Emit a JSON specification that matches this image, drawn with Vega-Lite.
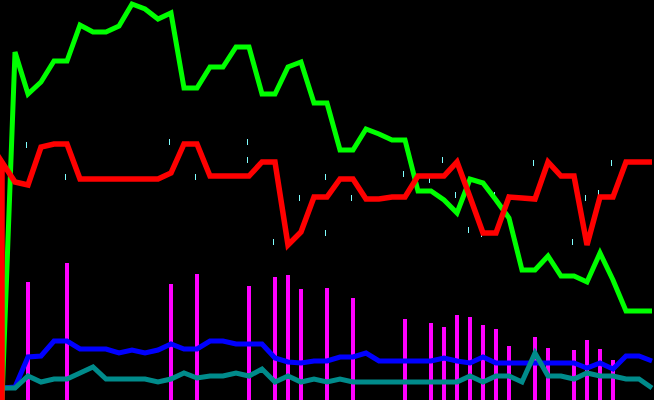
{
  "$schema": "https://vega.github.io/schema/vega-lite/v6.json",
  "width": 654,
  "height": 400,
  "padding": 0,
  "autosize": {"type": "none"},
  "background": "black",
  "config": {"view": {"stroke": null}},
  "datasets": {
    "m": [
      {"i": 0, "r": 0, "o": 0},
      {"i": 0, "g": 0, "r": 238, "b": 12, "t": 12, "o": 1},
      {"i": 1, "g": 348, "r": 218, "b": 13, "t": 12, "o": 2},
      {"i": 2, "g": 306, "r": 215, "b": 43, "t": 24, "v": 118, "o": 3},
      {"i": 3, "g": 318, "r": 253, "b": 44, "t": 18, "o": 4},
      {"i": 4, "g": 339, "r": 256, "b": 59, "t": 21, "o": 5},
      {"i": 5, "g": 339, "r": 256, "b": 59, "t": 21, "v": 137, "o": 6},
      {"i": 6, "g": 375, "r": 221, "b": 51, "t": 27, "o": 7},
      {"i": 7, "g": 368, "r": 221, "b": 51, "t": 33, "o": 8},
      {"i": 8, "g": 368, "r": 221, "b": 51, "t": 21, "o": 9},
      {"i": 9, "g": 374, "r": 221, "b": 47, "t": 21, "o": 10},
      {"i": 10, "g": 396, "r": 221, "b": 50, "t": 21, "o": 11},
      {"i": 11, "g": 391, "r": 221, "b": 47, "t": 21, "o": 12},
      {"i": 12, "g": 381, "r": 221, "b": 50, "t": 18, "o": 13},
      {"i": 13, "g": 387, "r": 227, "b": 56, "t": 21, "v": 116, "o": 14},
      {"i": 14, "g": 312, "r": 256, "b": 51, "t": 27, "o": 15},
      {"i": 15, "g": 312, "r": 256, "b": 51, "t": 22, "v": 126, "o": 16},
      {"i": 16, "g": 333, "r": 224, "b": 59, "t": 24, "o": 17},
      {"i": 17, "g": 333, "r": 224, "b": 59, "t": 24, "o": 18},
      {"i": 18, "g": 353, "r": 224, "b": 56, "t": 27, "o": 19},
      {"i": 19, "g": 353, "r": 224, "b": 56, "t": 24, "v": 114, "o": 20},
      {"i": 20, "g": 306, "r": 238, "b": 56, "t": 31, "o": 21},
      {"i": 21, "g": 306, "r": 238, "b": 42, "t": 18, "v": 123, "o": 22},
      {"i": 22, "g": 333, "r": 155, "b": 38, "t": 24, "v": 125, "o": 23},
      {"i": 23, "g": 338, "r": 168, "b": 37, "t": 18, "v": 111, "o": 24},
      {"i": 24, "g": 297, "r": 203, "b": 39, "t": 21, "o": 25},
      {"i": 25, "g": 297, "r": 203, "b": 39, "t": 18, "v": 112, "o": 26},
      {"i": 26, "g": 250, "r": 221, "b": 43, "t": 21, "o": 27},
      {"i": 27, "g": 250, "r": 221, "b": 43, "t": 18, "v": 102, "o": 28},
      {"i": 28, "g": 271, "r": 201, "b": 47, "t": 18, "o": 29},
      {"i": 29, "g": 266, "r": 201, "b": 39, "t": 18, "o": 30},
      {"i": 30, "g": 260, "r": 203, "b": 39, "t": 18, "o": 31},
      {"i": 31, "g": 260, "r": 203, "b": 39, "t": 18, "v": 81, "o": 32},
      {"i": 32, "g": 209, "r": 224, "b": 39, "t": 18, "o": 33},
      {"i": 33, "g": 209, "r": 224, "b": 39, "t": 18, "v": 77, "o": 34},
      {"i": 34, "g": 200, "r": 224, "b": 42, "t": 18, "v": 73, "o": 35},
      {"i": 35, "g": 187, "r": 238, "b": 39, "t": 18, "v": 85, "o": 36},
      {"i": 36, "g": 221, "r": 203, "b": 37, "t": 24, "v": 83, "o": 37},
      {"i": 37, "g": 217, "r": 167, "b": 43, "t": 18, "v": 75, "o": 38},
      {"i": 38, "g": 200, "r": 167, "b": 37, "t": 24, "v": 71, "o": 39},
      {"i": 39, "g": 182, "r": 203, "b": 37, "t": 24, "v": 54, "o": 40},
      {"i": 40, "g": 130, "r": 202, "b": 37, "t": 18, "o": 41},
      {"i": 41, "g": 130, "r": 201, "b": 37, "t": 47, "v": 63, "o": 42},
      {"i": 42, "g": 144, "r": 238, "b": 37, "t": 24, "v": 52, "o": 43},
      {"i": 43, "g": 124, "r": 224, "b": 37, "t": 24, "o": 44},
      {"i": 44, "g": 124, "r": 224, "b": 37, "t": 21, "v": 50, "o": 45},
      {"i": 45, "g": 118, "r": 155, "b": 32, "t": 27, "v": 60, "o": 46},
      {"i": 46, "g": 147, "r": 203, "b": 37, "t": 24, "v": 51, "o": 47},
      {"i": 47, "g": 120, "r": 203, "b": 31, "t": 24, "v": 40, "o": 48},
      {"i": 48, "g": 89, "r": 238, "b": 44, "t": 21, "o": 49},
      {"i": 49, "g": 89, "r": 238, "b": 44, "t": 21, "o": 50},
      {"i": 50, "g": 89, "r": 238, "b": 39, "t": 12, "o": 51}
    ],
    "ticks": [
      {"i": 2, "p": 255},
      {"i": 5, "p": 223},
      {"i": 13, "p": 258},
      {"i": 15, "p": 223},
      {"i": 19, "p": 258},
      {"i": 19, "p": 240},
      {"i": 21, "p": 158},
      {"i": 22, "p": 155},
      {"i": 23, "p": 202},
      {"i": 25, "p": 223},
      {"i": 25, "p": 167},
      {"i": 27, "p": 202},
      {"i": 31, "p": 226},
      {"i": 33, "p": 220},
      {"i": 34, "p": 240},
      {"i": 35, "p": 205},
      {"i": 36, "p": 170},
      {"i": 37, "p": 166},
      {"i": 38, "p": 205},
      {"i": 39, "p": 202},
      {"i": 41, "p": 237},
      {"i": 42, "p": 238},
      {"i": 44, "p": 158},
      {"i": 45, "p": 202},
      {"i": 46, "p": 207},
      {"i": 47, "p": 237}
    ]
  },
  "data": {"name": "m"},
  "encoding": {
    "x": {"field": "i", "type": "quantitative", "axis": null,
          "scale": {"domain": [0, 50], "zero": false, "nice": false, "padding": 2}}
  },
  "layer": [
    {
      "transform": [{"filter": "isValid(datum.v)"}],
      "mark": {"type": "bar", "color": "#ff00ff", "width": 4},
      "encoding": {
        "y": {"field": "v", "type": "quantitative", "axis": null, "scale": {"domain": [0, 400], "nice": false, "zero": true}}
      }
    },
    {
      "transform": [{"filter": "isValid(datum.b)"}],
      "mark": {"type": "line", "color": "#0000ff", "strokeWidth": 5},
      "encoding": {
        "y": {"field": "b", "type": "quantitative", "axis": null},
        "order": {"field": "o", "type": "quantitative"}
      }
    },
    {
      "transform": [{"filter": "isValid(datum.t)"}],
      "mark": {"type": "line", "color": "#008b8b", "strokeWidth": 5},
      "encoding": {
        "y": {"field": "t", "type": "quantitative", "axis": null},
        "order": {"field": "o", "type": "quantitative"}
      }
    },
    {
      "data": {"name": "ticks"},
      "mark": {"type": "tick", "orient": "vertical", "color": "#80ffff", "size": 6, "thickness": 1, "opacity": 1, "xOffset": -1.5},
      "encoding": {
        "y": {"field": "p", "type": "quantitative", "axis": null}
      }
    },
    {
      "transform": [{"filter": "isValid(datum.g)"}],
      "mark": {"type": "line", "color": "#00ff00", "strokeWidth": 5},
      "encoding": {
        "y": {"field": "g", "type": "quantitative", "axis": null},
        "order": {"field": "o", "type": "quantitative"}
      }
    },
    {
      "transform": [{"filter": "isValid(datum.r)"}],
      "mark": {"type": "line", "color": "#ff0000", "strokeWidth": 5.5},
      "encoding": {
        "y": {"field": "r", "type": "quantitative", "axis": null},
        "order": {"field": "o", "type": "quantitative"}
      }
    }
  ]
}
